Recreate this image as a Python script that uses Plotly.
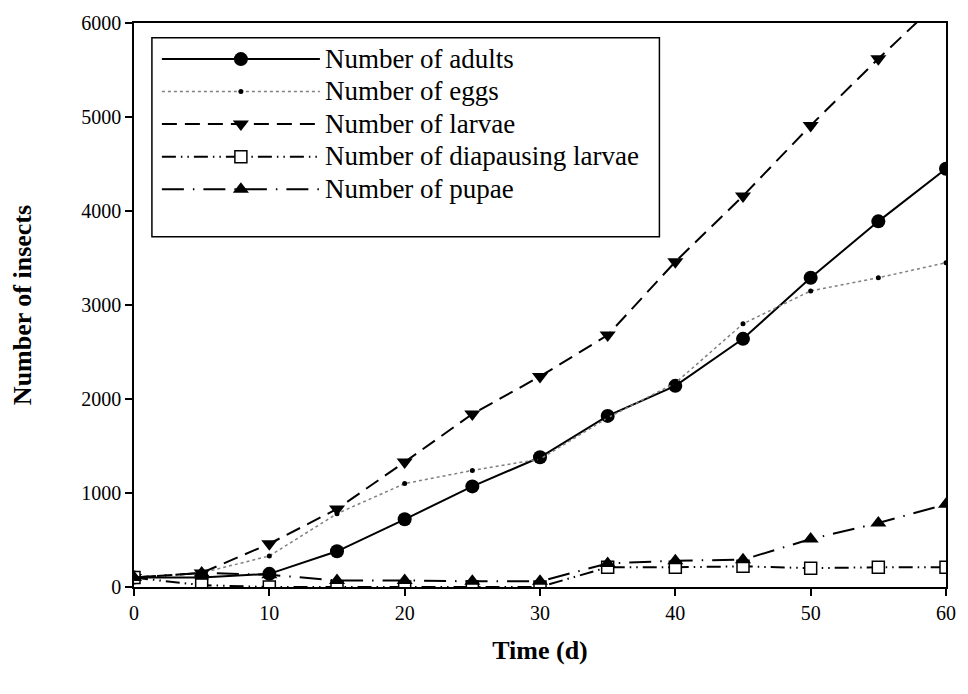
import plotly.graph_objects as go

days = [0, 5, 10, 15, 20, 25, 30, 35, 40, 45, 50, 55, 60]
adults = [100, 100, 140, 380, 720, 1070, 1380, 1820, 2140, 2640, 3290, 3890, 4450]
eggs = [100, 150, 330, 780, 1100, 1240, 1360, 1800, 2170, 2800, 3150, 3290, 3450]
larvae = [100, 150, 460, 830, 1330, 1840, 2240, 2680, 3460, 4160, 4910, 5620, 6300]
diapausing = [100, 20, 0, 0, 0, 0, 0, 210, 210, 220, 200, 210, 210]
pupae = [100, 150, 130, 70, 70, 60, 60, 250, 280, 290, 510, 680, 880]

x_ticks = [0, 10, 20, 30, 40, 50, 60]
y_ticks = [0, 1000, 2000, 3000, 4000, 5000, 6000]

FONT = "Liberation Serif"


def big(s):
    return "<span style='font-size:27px'>" + s + "</span>"


fig = go.Figure()
fig.add_trace(go.Scatter(x=days, y=adults, name=big("Number of adults"), mode="lines+markers",
                         line=dict(color="black", width=2, dash="solid"),
                         marker=dict(symbol="circle", size=14, color="black")))
fig.add_trace(go.Scatter(x=days, y=eggs, name=big("Number of eggs"), mode="lines+markers",
                         line=dict(color="#808080", width=1.5, dash="dot"),
                         marker=dict(symbol="circle", size=5, color="black")))
fig.add_trace(go.Scatter(x=days, y=larvae, name=big("Number of larvae"), mode="lines+markers",
                         line=dict(color="black", width=2, dash="15px,8px"),
                         marker=dict(symbol="triangle-down", size=14, color="black")))
fig.add_trace(go.Scatter(x=days, y=diapausing, name=big("Number of diapausing larvae"), mode="lines+markers",
                         line=dict(color="black", width=2, dash="14px,5px,1.5px,5px,1.5px,5px"),
                         marker=dict(symbol="square", size=12, color="white",
                                     line=dict(color="black", width=1.5))))
fig.add_trace(go.Scatter(x=days, y=pupae, name=big("Number of pupae"), mode="lines+markers",
                         line=dict(color="black", width=2, dash="22px,9px,1.5px,9px"),
                         marker=dict(symbol="triangle-up", size=14, color="black")))

# legend frame
fig.add_shape(type="rect", xref="paper", yref="paper",
              x0=(152 - 134) / 816, x1=(662 - 134) / 816,
              y0=(587 - 233) / 570, y1=(587 - 32) / 570,
              line=dict(color="black", width=1.5), fillcolor="rgba(0,0,0,0)", layer="above")

fig.update_layout(
    width=968, height=694,
    margin=dict(l=134, r=18, t=17, b=107),
    paper_bgcolor="white", plot_bgcolor="white",
    font=dict(family=FONT, size=20, color="black"),
    showlegend=True,
    legend=dict(x=(157 - 134) / 816, y=(587 - 32) / 570, xanchor="left", yanchor="top",
                borderwidth=0, bgcolor="rgba(255,255,255,0)",
                font=dict(family=FONT, size=22.7, color="black"),
                itemwidth=158, tracegroupgap=0, traceorder="normal"),
)
fig.update_xaxes(range=[0, 60], tickvals=x_ticks, ticktext=[str(v) for v in x_ticks],
                 showline=True, linecolor="black", linewidth=1.5, mirror=True,
                 ticks="outside", ticklen=7, tickcolor="black", tickwidth=1.5,
                 showgrid=False, zeroline=False,
                 title=dict(text="<b>Time (d)</b>", font=dict(family=FONT, size=26), standoff=18),
                 tickfont=dict(family=FONT, size=20))
fig.update_yaxes(range=[0, 6000], tickvals=y_ticks, ticktext=[str(v) for v in y_ticks],
                 showline=True, linecolor="black", linewidth=1.5, mirror=True,
                 ticks="outside", ticklen=7, tickcolor="black", tickwidth=1.5,
                 showgrid=False, zeroline=False,
                 title=dict(text="<b>Number of insects</b>", font=dict(family=FONT, size=26), standoff=42),
                 tickfont=dict(family=FONT, size=20))

fig.write_html("out.html")
